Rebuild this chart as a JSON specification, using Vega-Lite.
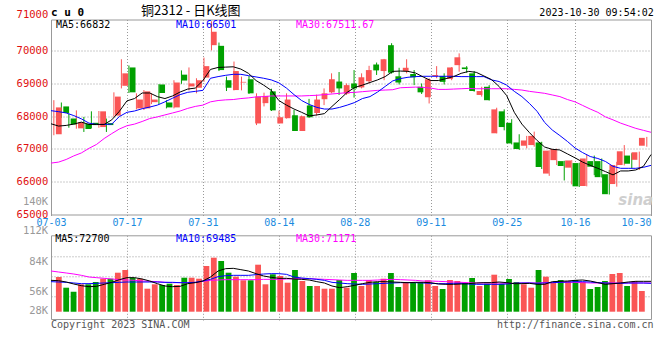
{
  "$schema": "https://vega.github.io/schema/vega-lite/v6.json",
  "autosize": {"type": "pad"},
  "padding": {"left": 15, "top": 3.5, "right": 9, "bottom": 4},
  "background": "#ffffff",
  "config": {
    "view": {"stroke": "#999999", "strokeWidth": 1},
    "axis": {"labelFont": "DejaVu Sans Mono", "labelFontSize": 10.5, "domain": false, "ticks": false, "gridColor": "#999999", "gridDash": [1, 2], "gridWidth": 1, "labelOverlap": false, "labelBound": false, "labelFlush": false, "tickCount": 20}
  },
  "datasets": {
    "k": [
      {"i":0,"date":"2023-07-03","o":67450,"h":68490,"l":67420,"c":68270,"ma5":67770,"ma10":68170,"ma30":66570,"v":69790,"vma5":66660,"vma10":65410,"vma30":75410},
      {"i":1,"date":"2023-07-04","o":68300,"h":68420,"l":67950,"c":68100,"ma5":67700,"ma10":68140,"ma30":66600,"v":59750,"vma5":66340,"vma10":65090,"vma30":74470},
      {"i":2,"date":"2023-07-05","o":67930,"h":68080,"l":67650,"c":67750,"ma5":67720,"ma10":68100,"ma30":66680,"v":56000,"vma5":65090,"vma10":64780,"vma30":73540},
      {"i":3,"date":"2023-07-06","o":67630,"h":68180,"l":67620,"c":67820,"ma5":67760,"ma10":68020,"ma30":66790,"v":62940,"vma5":63220,"vma10":64160,"vma30":72600},
      {"i":4,"date":"2023-07-07","o":67770,"h":67980,"l":67520,"c":67610,"ma5":67820,"ma10":67920,"ma30":66880,"v":62940,"vma5":61650,"vma10":63530,"vma30":71350},
      {"i":5,"date":"2023-07-10","o":67800,"h":68150,"l":67630,"c":67730,"ma5":67750,"ma10":67790,"ma30":67020,"v":65100,"vma5":60720,"vma10":63530,"vma30":69780},
      {"i":6,"date":"2023-07-11","o":67670,"h":68160,"l":67650,"c":68150,"ma5":67750,"ma10":67750,"ma30":67140,"v":68190,"vma5":61030,"vma10":63840,"vma30":69160},
      {"i":7,"date":"2023-07-12","o":67790,"h":67930,"l":67520,"c":67730,"ma5":67750,"ma10":67750,"ma30":67320,"v":68190,"vma5":62900,"vma10":64160,"vma30":68530},
      {"i":8,"date":"2023-07-13","o":68020,"h":68730,"l":67980,"c":68600,"ma5":67890,"ma10":67760,"ma30":67470,"v":73820,"vma5":64780,"vma10":64470,"vma30":67910},
      {"i":9,"date":"2023-07-14","o":68930,"h":69740,"l":68850,"c":69310,"ma5":68150,"ma10":67990,"ma30":67610,"v":76360,"vma5":67280,"vma10":64780,"vma30":67280},
      {"i":10,"date":"2023-07-17","o":69490,"h":69550,"l":68710,"c":68730,"ma5":68470,"ma10":68120,"ma30":67710,"v":69130,"vma5":69160,"vma10":65090,"vma30":66970},
      {"i":11,"date":"2023-07-18","o":68240,"h":68700,"l":68210,"c":68510,"ma5":68540,"ma10":68160,"ma30":67760,"v":68190,"vma5":69160,"vma10":65090,"vma30":66660},
      {"i":12,"date":"2023-07-19","o":68240,"h":68800,"l":68190,"c":68760,"ma5":68710,"ma10":68230,"ma30":67840,"v":58810,"vma5":67910,"vma10":65090,"vma30":66030},
      {"i":13,"date":"2023-07-20","o":68430,"h":68700,"l":68370,"c":68510,"ma5":68710,"ma10":68280,"ma30":67930,"v":62940,"vma5":66030,"vma10":65090,"vma30":65720},
      {"i":14,"date":"2023-07-21","o":68970,"h":68980,"l":68370,"c":68710,"ma5":68600,"ma10":68340,"ma30":67980,"v":62290,"vma5":63530,"vma10":65090,"vma30":65410},
      {"i":15,"date":"2023-07-24","o":68420,"h":68490,"l":68240,"c":68270,"ma5":68540,"ma10":68440,"ma30":68040,"v":63500,"vma5":61340,"vma10":64780,"vma30":64780},
      {"i":16,"date":"2023-07-25","o":68270,"h":69100,"l":68240,"c":69030,"ma5":68620,"ma10":68550,"ma30":68100,"v":62290,"vma5":60720,"vma10":64780,"vma30":64470},
      {"i":17,"date":"2023-07-26","o":69270,"h":69400,"l":68990,"c":69090,"ma5":68740,"ma10":68660,"ma30":68160,"v":69130,"vma5":61030,"vma10":64470,"vma30":64470},
      {"i":18,"date":"2023-07-27","o":68910,"h":69490,"l":68790,"c":69000,"ma5":68830,"ma10":68730,"ma30":68240,"v":69130,"vma5":63530,"vma10":64470,"vma30":64470},
      {"i":19,"date":"2023-07-28","o":68870,"h":69160,"l":68700,"c":69100,"ma5":68860,"ma10":68760,"ma30":68300,"v":68190,"vma5":64470,"vma10":64780,"vma30":64780},
      {"i":20,"date":"2023-07-31","o":69180,"h":69790,"l":69050,"c":69530,"ma5":69090,"ma10":68790,"ma30":68340,"v":80110,"vma5":66030,"vma10":66030,"vma30":65720},
      {"i":21,"date":"2023-08-01","o":70170,"h":70900,"l":70010,"c":70580,"ma5":69430,"ma10":69160,"ma30":68440,"v":87890,"vma5":69780,"vma10":67590,"vma30":66660},
      {"i":22,"date":"2023-08-02","o":70150,"h":70250,"l":69380,"c":69410,"ma5":69490,"ma10":69210,"ma30":68480,"v":84800,"vma5":75410,"vma10":70100,"vma30":66970},
      {"i":23,"date":"2023-08-03","o":69100,"h":69210,"l":68770,"c":68870,"ma5":69500,"ma10":69250,"ma30":68500,"v":73820,"vma5":77600,"vma10":71030,"vma30":67280},
      {"i":24,"date":"2023-08-04","o":68800,"h":69670,"l":68790,"c":69380,"ma5":69510,"ma10":69280,"ma30":68510,"v":70070,"vma5":77910,"vma10":71350,"vma30":67280},
      {"i":25,"date":"2023-08-07","o":69030,"h":69210,"l":68790,"c":69050,"ma5":69440,"ma10":69280,"ma30":68540,"v":66690,"vma5":76660,"vma10":71350,"vma30":67280},
      {"i":26,"date":"2023-08-08","o":69130,"h":69230,"l":68680,"c":68700,"ma5":69310,"ma10":69240,"ma30":68560,"v":66690,"vma5":75410,"vma10":71350,"vma30":67280},
      {"i":27,"date":"2023-08-09","o":67780,"h":68700,"l":67730,"c":68600,"ma5":69090,"ma10":69200,"ma30":68590,"v":81330,"vma5":72910,"vma10":71970,"vma30":67280},
      {"i":28,"date":"2023-08-10","o":68400,"h":68720,"l":68300,"c":68620,"ma5":68950,"ma10":69160,"ma30":68600,"v":62940,"vma5":70720,"vma10":72600,"vma30":67590},
      {"i":29,"date":"2023-08-11","o":68760,"h":68840,"l":68160,"c":68180,"ma5":68790,"ma10":69110,"ma30":68620,"v":72320,"vma5":69470,"vma10":72910,"vma30":67590},
      {"i":30,"date":"2023-08-14","o":67780,"h":68170,"l":67780,"c":67970,"ma5":68480,"ma10":69020,"ma30":68620,"v":70730,"vma5":68530,"vma10":72910,"vma30":67590},
      {"i":31,"date":"2023-08-15","o":67940,"h":68700,"l":67930,"c":68510,"ma5":68340,"ma10":68860,"ma30":68620,"v":64440,"vma5":68530,"vma10":72290,"vma30":67910},
      {"i":32,"date":"2023-08-16","o":68030,"h":68190,"l":67550,"c":67550,"ma5":68220,"ma10":68660,"ma30":68620,"v":76360,"vma5":67910,"vma10":69780,"vma30":68220},
      {"i":33,"date":"2023-08-17","o":67550,"h":68020,"l":67550,"c":68000,"ma5":68120,"ma10":68480,"ma30":68620,"v":66040,"vma5":67590,"vma10":68850,"vma30":68220},
      {"i":34,"date":"2023-08-18","o":68330,"h":68530,"l":67950,"c":67970,"ma5":68010,"ma10":68360,"ma30":68630,"v":61350,"vma5":66970,"vma10":68220,"vma30":68220},
      {"i":35,"date":"2023-08-21","o":68100,"h":68660,"l":68020,"c":68510,"ma5":68040,"ma10":68270,"ma30":68640,"v":61350,"vma5":65410,"vma10":67590,"vma30":67910},
      {"i":36,"date":"2023-08-22","o":68520,"h":68850,"l":68340,"c":68700,"ma5":68080,"ma10":68220,"ma30":68660,"v":58810,"vma5":64160,"vma10":66660,"vma30":67590},
      {"i":37,"date":"2023-08-23","o":68730,"h":69310,"l":68700,"c":69130,"ma5":68300,"ma10":68220,"ma30":68680,"v":58810,"vma5":61340,"vma10":64780,"vma30":67280},
      {"i":38,"date":"2023-08-24","o":69060,"h":69350,"l":68650,"c":68850,"ma5":68510,"ma10":68270,"ma30":68700,"v":66980,"vma5":59780,"vma10":64160,"vma30":66970},
      {"i":39,"date":"2023-08-25","o":68690,"h":69000,"l":68650,"c":68950,"ma5":68730,"ma10":68340,"ma30":68720,"v":59750,"vma5":60720,"vma10":63530,"vma30":66660},
      {"i":40,"date":"2023-08-28","o":69000,"h":69410,"l":68570,"c":68850,"ma5":68880,"ma10":68420,"ma30":68730,"v":73540,"vma5":61970,"vma10":63220,"vma30":66660},
      {"i":41,"date":"2023-08-29","o":68880,"h":69310,"l":68850,"c":69190,"ma5":68950,"ma10":68540,"ma30":68750,"v":61350,"vma5":63530,"vma10":62900,"vma30":66660},
      {"i":42,"date":"2023-08-30","o":69070,"h":69540,"l":69000,"c":69410,"ma5":69030,"ma10":68600,"ma30":68770,"v":66980,"vma5":64780,"vma10":63220,"vma30":66660},
      {"i":43,"date":"2023-08-31","o":69580,"h":69640,"l":69260,"c":69400,"ma5":69110,"ma10":68740,"ma30":68790,"v":65100,"vma5":65410,"vma10":63530,"vma30":66970},
      {"i":44,"date":"2023-09-01","o":69380,"h":69750,"l":69100,"c":69740,"ma5":69210,"ma10":68910,"ma30":68800,"v":68190,"vma5":65410,"vma10":63840,"vma30":67280},
      {"i":45,"date":"2023-09-04","o":70170,"h":70230,"l":69300,"c":69330,"ma5":69370,"ma10":69080,"ma30":68810,"v":73540,"vma5":65090,"vma10":64160,"vma30":67590},
      {"i":46,"date":"2023-09-05","o":69220,"h":69480,"l":68970,"c":69030,"ma5":69380,"ma10":69150,"ma30":68870,"v":60410,"vma5":64780,"vma10":64470,"vma30":67280},
      {"i":47,"date":"2023-09-06","o":69380,"h":69740,"l":69310,"c":69480,"ma5":69370,"ma10":69190,"ma30":68880,"v":65100,"vma5":64470,"vma10":64470,"vma30":66970},
      {"i":48,"date":"2023-09-07","o":69290,"h":69410,"l":68950,"c":69190,"ma5":69320,"ma10":69210,"ma30":68890,"v":65100,"vma5":64780,"vma10":64470,"vma30":66660},
      {"i":49,"date":"2023-09-08","o":68900,"h":69000,"l":68680,"c":68730,"ma5":69200,"ma10":69220,"ma30":68880,"v":64440,"vma5":64780,"vma10":64160,"vma30":66030},
      {"i":50,"date":"2023-09-11","o":68580,"h":69160,"l":68390,"c":69130,"ma5":69090,"ma10":69220,"ma30":68860,"v":66690,"vma5":64470,"vma10":63840,"vma30":66030},
      {"i":51,"date":"2023-09-12","o":69230,"h":69530,"l":69160,"c":69260,"ma5":69090,"ma10":69220,"ma30":68820,"v":61350,"vma5":63220,"vma10":63530,"vma30":65720},
      {"i":52,"date":"2023-09-13","o":69230,"h":69310,"l":68970,"c":69050,"ma5":69150,"ma10":69220,"ma30":68820,"v":58530,"vma5":62900,"vma10":63530,"vma30":65410},
      {"i":53,"date":"2023-09-14","o":69140,"h":69500,"l":69100,"c":69490,"ma5":69210,"ma10":69220,"ma30":68830,"v":66980,"vma5":62900,"vma10":63840,"vma30":65090},
      {"i":54,"date":"2023-09-15","o":69560,"h":69920,"l":69360,"c":69800,"ma5":69310,"ma10":69210,"ma30":68840,"v":66040,"vma5":63220,"vma10":63840,"vma30":64780},
      {"i":55,"date":"2023-09-18","o":69490,"h":69530,"l":69330,"c":69440,"ma5":69370,"ma10":69210,"ma30":68850,"v":63500,"vma5":63530,"vma10":63220,"vma30":64470},
      {"i":56,"date":"2023-09-19","o":69310,"h":69380,"l":68750,"c":68770,"ma5":69340,"ma10":69210,"ma30":68840,"v":68850,"vma5":64160,"vma10":62900,"vma30":64160},
      {"i":57,"date":"2023-09-20","o":68650,"h":68900,"l":68600,"c":68770,"ma5":69230,"ma10":69210,"ma30":68840,"v":61350,"vma5":64470,"vma10":62900,"vma30":64160},
      {"i":58,"date":"2023-09-21","o":68900,"h":68950,"l":68480,"c":68490,"ma5":69120,"ma10":69110,"ma30":68840,"v":63500,"vma5":64470,"vma10":62900,"vma30":64160},
      {"i":59,"date":"2023-09-22","o":67480,"h":68260,"l":67480,"c":68210,"ma5":68910,"ma10":69060,"ma30":68840,"v":71950,"vma5":65090,"vma10":62900,"vma30":64160},
      {"i":60,"date":"2023-09-25","o":68150,"h":68210,"l":67570,"c":67670,"ma5":68630,"ma10":68950,"ma30":68840,"v":63500,"vma5":64470,"vma10":63220,"vma30":63840},
      {"i":61,"date":"2023-09-26","o":67800,"h":67910,"l":67140,"c":67170,"ma5":68120,"ma10":68760,"ma30":68820,"v":67910,"vma5":63530,"vma10":63840,"vma30":63840},
      {"i":62,"date":"2023-09-27","o":67200,"h":67450,"l":66970,"c":67000,"ma5":67760,"ma10":68600,"ma30":68800,"v":65100,"vma5":63530,"vma10":64160,"vma30":64160},
      {"i":63,"date":"2023-09-28","o":67100,"h":67400,"l":67020,"c":67260,"ma5":67500,"ma10":68390,"ma30":68760,"v":62940,"vma5":63840,"vma10":64160,"vma30":64160},
      {"i":64,"date":"2023-10-09","o":67120,"h":67530,"l":67070,"c":67400,"ma5":67260,"ma10":68150,"ma30":68730,"v":59750,"vma5":62900,"vma10":63840,"vma30":64160},
      {"i":65,"date":"2023-10-10","o":67200,"h":67220,"l":66390,"c":66450,"ma5":67060,"ma10":67810,"ma30":68700,"v":76360,"vma5":62900,"vma10":64160,"vma30":64470},
      {"i":66,"date":"2023-10-11","o":66250,"h":66960,"l":66180,"c":66950,"ma5":66990,"ma10":67580,"ma30":68650,"v":70070,"vma5":65410,"vma10":64470,"vma30":64470},
      {"i":67,"date":"2023-10-12","o":66660,"h":67010,"l":66510,"c":67000,"ma5":66970,"ma10":67410,"ma30":68600,"v":65100,"vma5":65720,"vma10":64780,"vma30":64780},
      {"i":68,"date":"2023-10-13","o":66630,"h":66640,"l":66040,"c":66480,"ma5":66850,"ma10":67230,"ma30":68510,"v":66980,"vma5":66030,"vma10":65090,"vma30":64780},
      {"i":69,"date":"2023-10-16","o":66430,"h":66660,"l":65920,"c":66650,"ma5":66730,"ma10":67030,"ma30":68440,"v":66040,"vma5":66660,"vma10":65410,"vma30":64780},
      {"i":70,"date":"2023-10-17","o":66570,"h":66580,"l":65840,"c":65860,"ma5":66600,"ma10":66890,"ma30":68330,"v":66980,"vma5":66970,"vma10":65410,"vma30":64470},
      {"i":71,"date":"2023-10-18","o":65870,"h":66830,"l":65860,"c":66710,"ma5":66500,"ma10":66770,"ma30":68220,"v":65100,"vma5":66030,"vma10":65090,"vma30":64160},
      {"i":72,"date":"2023-10-19","o":66630,"h":66800,"l":66200,"c":66460,"ma5":66410,"ma10":66710,"ma30":68120,"v":58530,"vma5":64470,"vma10":64470,"vma30":64160},
      {"i":73,"date":"2023-10-20","o":66630,"h":66710,"l":66130,"c":66140,"ma5":66310,"ma10":66620,"ma30":67980,"v":60410,"vma5":62900,"vma10":64160,"vma30":64160},
      {"i":74,"date":"2023-10-23","o":66230,"h":66360,"l":65610,"c":65620,"ma5":66210,"ma10":66470,"ma30":67890,"v":66040,"vma5":63530,"vma10":63840,"vma30":64160},
      {"i":75,"date":"2023-10-24","o":65930,"h":66610,"l":65850,"c":66510,"ma5":66330,"ma10":66410,"ma30":67790,"v":72600,"vma5":64160,"vma10":63840,"vma30":64160},
      {"i":76,"date":"2023-10-25","o":66510,"h":67120,"l":66500,"c":66930,"ma5":66330,"ma10":66410,"ma30":67710,"v":73540,"vma5":65090,"vma10":64160,"vma30":64160},
      {"i":77,"date":"2023-10-26","o":66800,"h":66870,"l":66410,"c":66550,"ma5":66360,"ma10":66410,"ma30":67630,"v":61350,"vma5":65720,"vma10":64160,"vma30":64160},
      {"i":78,"date":"2023-10-27","o":66670,"h":66920,"l":66360,"c":66900,"ma5":66470,"ma10":66440,"ma30":67570,"v":66040,"vma5":65720,"vma10":64160,"vma30":64160},
      {"i":79,"date":"2023-10-30","o":67100,"h":67370,"l":67070,"c":67340,"ma5":66830,"ma10":66500,"ma30":67510,"v":56660,"vma5":65720,"vma10":63840,"vma30":64160}
    ]
  },
  "title": {"text": "c u 0", "anchor": "start", "frame": "group", "font": "DejaVu Sans Mono", "fontSize": 11, "fontWeight": "bold", "color": "#000000", "offset": -13.5},
  "spacing": -4.2,
  "vconcat": [
    {
      "title": {"text": "2023-10-30 09:54:02", "anchor": "end", "frame": "bounds", "font": "DejaVu Sans Mono", "fontSize": 10, "fontWeight": "normal", "color": "#000000", "offset": -13.8},
      "vconcat": [
        {
          "width": 600,
          "height": 195,
          "title": {"text": "铜2312 - 日K线图", "anchor": "start", "frame": "group", "dx": 90, "font": "Noto Sans CJK SC", "fontSize": 13, "fontWeight": "normal", "color": "#000000", "offset": -8},
          "data": {"name": "k"},
          "resolve": {"scale": {"x": "independent"}},
          "layer": [
            {
              "mark": {"type": "rule", "strokeWidth": 1},
              "encoding": {
                "x": {"field": "i", "type": "quantitative", "scale": {"domain": [-0.38, 79.56], "nice": false, "zero": false}, "axis": null},
                "y": {"field": "l", "type": "quantitative", "title": null, "scale": {"domain": [65000, 70954], "nice": false, "zero": false},
                  "axis": {"values": [65000, 65406, 66000, 67000, 68000, 69000, 70000, 70954], "labelPadding": 3.3,
                    "labelExpr": "datum.value == 65406 ? '140K' : datum.value == 70954 ? '71000' : format(datum.value, 'd')",
                    "labelColor": {"condition": {"test": "datum.value == 65406", "value": "#9a9a9a"}, "value": "#e01010"},
                    "labelBaseline": {"condition": {"test": "datum.value == 70954", "value": "bottom"}, "value": "middle"},
                    "gridOpacity": {"condition": {"test": "datum.value == 65406 || datum.value == 65000 || datum.value == 70954", "value": 0}, "value": 1}}},
                "y2": {"field": "h"},
                "color": {"condition": {"test": "datum.c >= datum.o", "value": "#fa5555"}, "value": "#00a000"}
              }
            },
            {
              "mark": {"type": "bar", "width": 5.8},
              "encoding": {
                "x": {"field": "i", "type": "quantitative", "scale": {"domain": [-0.38, 79.56], "nice": false, "zero": false}, "axis": null},
                "y": {"field": "o", "type": "quantitative", "scale": {"domain": [65000, 70954], "nice": false, "zero": false}},
                "y2": {"field": "c"},
                "color": {"condition": {"test": "datum.c >= datum.o", "value": "#fa5555"}, "value": "#00a000"}
              }
            },
            {
              "transform": [{"fold": ["ma30", "ma10", "ma5"], "as": ["series", "value"]}],
              "mark": {"type": "line", "strokeWidth": 1},
              "encoding": {
                "x": {"field": "i", "type": "quantitative", "title": null, "scale": {"domain": [0, 79], "nice": false, "zero": false},
                  "axis": {"orient": "bottom", "values": [0, 10, 20, 30, 40, 50, 60, 69, 79], "labelFontSize": 10, "labelColor": "#1a8be0", "labelPadding": 1,
                    "labelExpr": "['07-03','07-17','07-31','08-14','08-28','09-11','09-25','10-16','10-30'][indexof([0,10,20,30,40,50,60,69,79], datum.value)]",
                    "labelAlign": {"condition": {"test": "datum.value == 79", "value": "right"}, "value": "center"},
                    "ticks": true, "tickSize": 2, "tickColor": "#999999", "tickDash": [1, 2], "grid": true}},
                "y": {"field": "value", "type": "quantitative", "scale": {"domain": [65000, 70954], "nice": false, "zero": false}},
                "color": {"field": "series", "type": "nominal", "scale": {"domain": ["ma5", "ma10", "ma30"], "range": ["#000000", "#0000ff", "#ff00ff"]}, "legend": null}
              }
            },
            {
              "data": {"values": [{}]},
              "mark": {"type": "text", "align": "left", "baseline": "middle", "font": "DejaVu Sans Mono", "fontSize": 10},
              "encoding": {
                "x": {"datum": 0.66, "type": "quantitative", "scale": {"domain": [0, 79], "nice": false, "zero": false}, "axis": null},
                "y": {"datum": 70801, "type": "quantitative", "scale": {"domain": [65000, 70954], "nice": false, "zero": false}},
                "text": {"value": "MA5:66832"},
                "color": {"value": "#000000"}
              }
            },
            {
              "data": {"values": [{}]},
              "mark": {"type": "text", "align": "left", "baseline": "middle", "font": "DejaVu Sans Mono", "fontSize": 10},
              "encoding": {
                "x": {"datum": 16.46, "type": "quantitative", "scale": {"domain": [0, 79], "nice": false, "zero": false}, "axis": null},
                "y": {"datum": 70801, "type": "quantitative", "scale": {"domain": [65000, 70954], "nice": false, "zero": false}},
                "text": {"value": "MA10:66501"},
                "color": {"value": "#0000ff"}
              }
            },
            {
              "data": {"values": [{}]},
              "mark": {"type": "text", "align": "left", "baseline": "middle", "font": "DejaVu Sans Mono", "fontSize": 10},
              "encoding": {
                "x": {"datum": 32.26, "type": "quantitative", "scale": {"domain": [0, 79], "nice": false, "zero": false}, "axis": null},
                "y": {"datum": 70801, "type": "quantitative", "scale": {"domain": [65000, 70954], "nice": false, "zero": false}},
                "text": {"value": "MA30:67511.67"},
                "color": {"value": "#ff00ff"}
              }
            },
            {
              "data": {"values": [{}]},
              "mark": {"type": "text", "align": "center", "baseline": "middle", "font": "DejaVu Sans", "fontSize": 15, "fontStyle": "italic", "fontWeight": "bold"},
              "encoding": {
                "x": {"datum": 77.0, "type": "quantitative", "scale": {"domain": [0, 79], "nice": false, "zero": false}, "axis": null},
                "y": {"datum": 65458, "type": "quantitative", "scale": {"domain": [65000, 70954], "nice": false, "zero": false}},
                "text": {"value": "sina"},
                "color": {"value": "#cfcfcf"}
              }
            }
          ]
        }
      ]
    },
    {
      "title": {"text": "http://finance.sina.com.cn", "orient": "bottom", "anchor": "end", "frame": "bounds", "font": "DejaVu Sans Mono", "fontSize": 10, "fontWeight": "normal", "color": "#555555", "offset": -10},
      "vconcat": [
        {
          "width": 600,
          "height": 83.7,
          "title": {"text": "Copyright 2023 SINA.COM", "orient": "bottom", "anchor": "start", "frame": "group", "font": "DejaVu Sans Mono", "fontSize": 10, "fontWeight": "normal", "color": "#555555", "offset": -1.7},
          "data": {"name": "k"},
          "resolve": {"scale": {"x": "independent"}},
          "layer": [
            {
              "mark": {"type": "bar", "width": 5.8},
              "encoding": {
                "x": {"field": "i", "type": "quantitative", "scale": {"domain": [-0.38, 79.56], "nice": false, "zero": false}, "axis": null},
                "y": {"field": "v", "type": "quantitative", "title": null, "scale": {"domain": [30390, 108900], "nice": false, "zero": false},
                  "axis": {"values": [37900, 51970, 56000, 70450, 84000, 89020, 108900], "labelPadding": 3.3, "labelColor": "#999999",
                    "labelExpr": "datum.value == 37900 ? '28K' : datum.value == 56000 ? '56K' : datum.value == 84000 ? '84K' : datum.value == 108900 ? '112K' : ''",
                    "labelBaseline": {"condition": {"test": "datum.value == 108900", "value": "bottom"}, "value": "middle"},
                    "gridOpacity": {"condition": {"test": "datum.value == 51970 || datum.value == 70450 || datum.value == 89020", "value": 1}, "value": 0}}},
                "y2": {"datum": 37240},
                "color": {"condition": {"test": "datum.c >= datum.o", "value": "#fa5555"}, "value": "#00a000"}
              }
            },
            {
              "transform": [{"fold": ["vma30", "vma10", "vma5"], "as": ["series", "value"]}],
              "mark": {"type": "line", "strokeWidth": 1},
              "encoding": {
                "x": {"field": "i", "type": "quantitative", "title": null, "scale": {"domain": [0, 79], "nice": false, "zero": false},
                  "axis": {"orient": "bottom", "values": [10, 20, 30, 40, 50, 60, 69], "labels": false, "ticks": true, "tickSize": 2, "tickColor": "#999999", "tickDash": [1, 2], "grid": true}},
                "y": {"field": "value", "type": "quantitative", "scale": {"domain": [30390, 108900], "nice": false, "zero": false}},
                "color": {"field": "series", "type": "nominal", "scale": {"domain": ["vma5", "vma10", "vma30"], "range": ["#000000", "#0000ff", "#ff00ff"]}, "legend": null}
              }
            },
            {
              "data": {"values": [{}]},
              "mark": {"type": "text", "align": "left", "baseline": "middle", "font": "DejaVu Sans Mono", "fontSize": 10},
              "encoding": {
                "x": {"datum": 0.56, "type": "quantitative", "scale": {"domain": [0, 79], "nice": false, "zero": false}, "axis": null},
                "y": {"datum": 105150, "type": "quantitative", "scale": {"domain": [30390, 108900], "nice": false, "zero": false}},
                "text": {"value": "MA5:72700"},
                "color": {"value": "#000000"}
              }
            },
            {
              "data": {"values": [{}]},
              "mark": {"type": "text", "align": "left", "baseline": "middle", "font": "DejaVu Sans Mono", "fontSize": 10},
              "encoding": {
                "x": {"datum": 16.46, "type": "quantitative", "scale": {"domain": [0, 79], "nice": false, "zero": false}, "axis": null},
                "y": {"datum": 105150, "type": "quantitative", "scale": {"domain": [30390, 108900], "nice": false, "zero": false}},
                "text": {"value": "MA10:69485"},
                "color": {"value": "#0000ff"}
              }
            },
            {
              "data": {"values": [{}]},
              "mark": {"type": "text", "align": "left", "baseline": "middle", "font": "DejaVu Sans Mono", "fontSize": 10},
              "encoding": {
                "x": {"datum": 32.26, "type": "quantitative", "scale": {"domain": [0, 79], "nice": false, "zero": false}, "axis": null},
                "y": {"datum": 105150, "type": "quantitative", "scale": {"domain": [30390, 108900], "nice": false, "zero": false}},
                "text": {"value": "MA30:71171"},
                "color": {"value": "#ff00ff"}
              }
            }
          ]
        }
      ]
    }
  ]
}
